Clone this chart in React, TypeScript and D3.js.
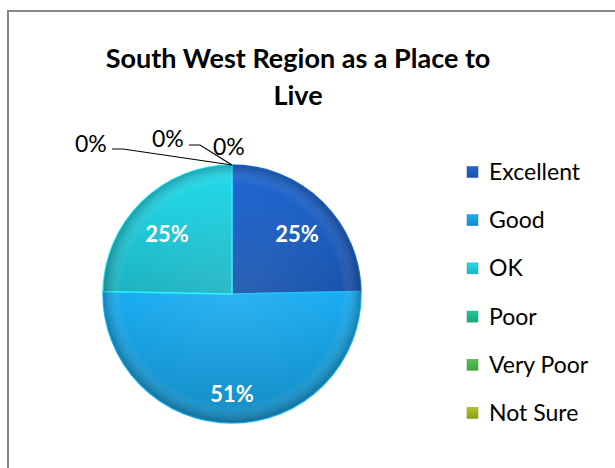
import React, { useEffect, useRef } from 'react';
import * as d3 from 'd3';

const categories = ['Excellent', 'Good', 'OK', 'Poor', 'Very Poor', 'Not Sure'];
const values = [24.7, 50.6, 24.7, 0, 0, 0];
const labels = ['25%', '51%', '25%', '0%', '0%', '0%'];
const colors = ['#1c5cbc', '#1799d6', '#1fc3d2', '#1bb38a', '#4cae46', '#9cab22'];

const W = 615;
const H = 468;

const App: React.FC = () => {
  const svgRef = useRef<SVGSVGElement | null>(null);

  useEffect(() => {
    if (!svgRef.current) return;
    const svg = d3.select(svgRef.current);
    svg.selectAll('*').remove();

    const font = 'Lato, "Open Sans", sans-serif';
    const cx = 232;
    const cy = 294;
    const r = 129;

    // frame, cut off at right and bottom like the source
    svg.append('rect')
      .attr('x', 8).attr('y', 11)
      .attr('width', W + 20).attr('height', H + 20)
      .attr('fill', '#fff')
      .attr('stroke', '#878787').attr('stroke-width', 2);

    const title = svg.append('text')
      .attr('text-anchor', 'middle')
      .attr('font-family', font)
      .attr('font-weight', 'bold')
      .attr('font-size', 27)
      .attr('fill', '#000');
    title.append('tspan').attr('x', 298).attr('y', 68).text('South West Region as a Place to');
    title.append('tspan').attr('x', 298).attr('y', 105).text('Live');

    const defs = svg.append('defs');
    const shade = defs.append('radialGradient')
      .attr('id', 'shade')
      .attr('cx', '50%').attr('cy', '50%').attr('r', '50%');
    shade.append('stop').attr('offset', '0%').attr('stop-color', '#fff').attr('stop-opacity', 0.08);
    shade.append('stop').attr('offset', '85%').attr('stop-color', '#fff').attr('stop-opacity', 0);
    shade.append('stop').attr('offset', '100%').attr('stop-color', '#000').attr('stop-opacity', 0.25);

    colors.forEach((c, i) => {
      const g = defs.append('linearGradient')
        .attr('id', `lg${i}`)
        .attr('x1', 0).attr('y1', 0).attr('x2', 0).attr('y2', 1);
      g.append('stop').attr('offset', '0%').attr('stop-color', d3.color(c)!.brighter(0.35).formatHex());
      g.append('stop').attr('offset', '100%').attr('stop-color', d3.color(c)!.darker(0.25).formatHex());
    });

    const pie = d3.pie<number>().sort(null).value(d => d);
    const arcs = pie(values);
    const arc = d3.arc<d3.PieArcDatum<number>>().innerRadius(0).outerRadius(r);
    const labelArc = d3.arc<d3.PieArcDatum<number>>().innerRadius(r * 0.72).outerRadius(r * 0.72);

    const inside = arcs.filter(a => a.value > 0);

    const g = svg.append('g').attr('transform', `translate(${cx},${cy})`);
    g.selectAll('path.slice')
      .data(inside)
      .join('path')
      .attr('class', 'slice')
      .attr('d', arc)
      .attr('fill', d => `url(#lg${d.index})`)
      .attr('stroke', d => d3.color(colors[d.index])!.brighter(0.6).formatHex())
      .attr('stroke-width', 1.5);

    g.append('circle').attr('r', r).attr('fill', 'url(#shade)');

    // inside labels
    g.selectAll('text.in')
      .data(inside)
      .join('text')
      .attr('class', 'in')
      .attr('transform', d => {
        const [x, y] = labelArc.centroid(d);
        return `translate(${x},${y + 7})`;
      })
      .attr('text-anchor', 'middle')
      .attr('dy', '0.35em')
      .attr('font-family', font)
      .attr('font-weight', 'bold')
      .attr('font-size', 22)
      .attr('fill', '#fff')
      .text(d => labels[d.index]);

    // zero labels with leader lines, offsets relative to the slice edge point
    const zero = arcs.filter(a => a.value === 0);
    const offsets = [
      { tx: -157, ty: -13, l0: -120, l1: -109, lyy: -16 },
      { tx: -80, ty: -18, l0: -43, l1: -32, lyy: -20 },
      { tx: -19, ty: -10, l0: 0, l1: 0, lyy: 0 },
    ];
    zero.forEach((d, k) => {
      const a = d.startAngle;
      const px = Math.sin(a) * r;
      const py = -Math.cos(a) * r;
      const o = offsets[k];
      if (o.l0 !== o.l1) {
        g.append('path')
          .attr('d', `M${px + o.l0},${py + o.lyy} L${px + o.l1},${py + o.lyy} L${px},${py}`)
          .attr('fill', 'none')
          .attr('stroke', '#000')
          .attr('stroke-width', 1.2);
      }
      g.append('text')
        .attr('x', px + o.tx)
        .attr('y', py + o.ty)
        .attr('font-family', font)
        .attr('font-size', 23)
        .attr('fill', '#000')
        .text(labels[d.index]);
    });

    // legend
    const ly = d3.scalePoint<string>().domain(categories).range([172, 413]);
    const leg = svg.append('g');
    categories.forEach((c, i) => {
      const y = ly(c)!;
      leg.append('rect')
        .attr('x', 467).attr('y', y - 5.5)
        .attr('width', 11).attr('height', 11)
        .attr('fill', `url(#lg${i})`)
        .attr('stroke', d3.color(colors[i])!.darker(0.3).formatHex())
        .attr('stroke-width', 0.5);
      leg.append('text')
        .attr('x', 489).attr('y', y)
        .attr('dy', '0.35em')
        .attr('font-family', font)
        .attr('font-size', 23)
        .attr('fill', '#000')
        .text(c);
    });
  }, []);

  return (
    <svg ref={svgRef} width={W} height={H} style={{ position: 'absolute', left: 0, top: 0 }} />
  );
};

export default App;
